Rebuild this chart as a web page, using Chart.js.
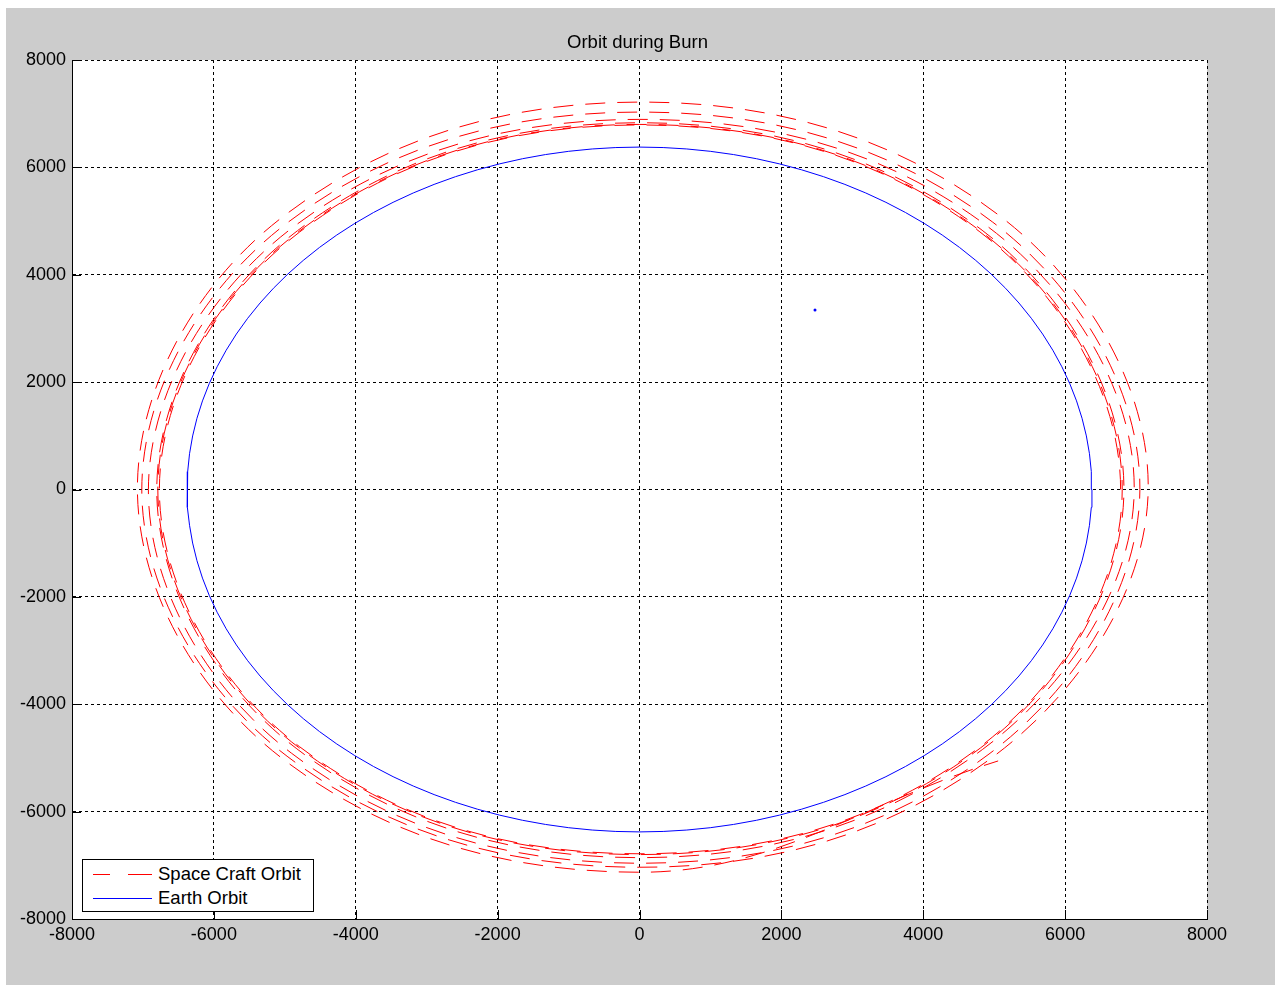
<!DOCTYPE html>
<html><head><meta charset="utf-8">
<script src="https://cdn.jsdelivr.net/npm/chart.js@4"></script>
<style>
html,body{margin:0;padding:0;background:#fff;}
#fig{position:absolute;left:6px;top:8px;width:1269px;height:977px;background:#cccccc;}
#wrap{position:absolute;left:0;top:0;width:1275px;height:990px;}
#legend{position:absolute;left:82px;top:859px;width:230px;height:51px;background:#fff;border:1px solid #000;font-family:"Liberation Sans",Arial,sans-serif;font-size:18.5px;color:#000;}
.row{position:absolute;left:0;height:22px;line-height:22px;white-space:nowrap;}
.row span.t{position:absolute;left:75px;top:0;}
.seg{position:absolute;height:1px;}
</style>
</head><body>
<div id="fig"></div>
<div id="wrap"><canvas id="c" width="1275" height="990"></canvas></div>
<div id="legend">
  <div class="row" style="top:3px;width:230px"><div class="seg" style="left:10px;width:17px;top:11px;background:#ff0000"></div><div class="seg" style="left:45px;width:24px;top:11px;background:#ff0000"></div><span class="t">Space Craft Orbit</span></div>
  <div class="row" style="top:27px;width:230px"><div class="seg" style="left:10px;width:59px;top:11px;background:#0000ff"></div><span class="t">Earth Orbit</span></div>
</div>
<script>
// ---- data (km) ----
const xTickValues = [-8000,-6000,-4000,-2000,0,2000,4000,6000,8000];
const yTickValues = [-8000,-6000,-4000,-2000,0,2000,4000,6000,8000];
const earthRadiusKm = 6378;
// spacecraft radius readings every 45 deg (0,45,...,315), one array per revolution
const scAnglesDeg = [0,45,90,135,180,225,270,315];
const scRev1 = [6782,6786,6790,6779,6768,6776,6785,6784];
const scRev2 = [6805,6802,6800,6795,6790,6795,6800,6803];
const scRev3 = [6829,6830,6831,6818,6805,6831,6857,6843];
const scRev4 = [6974,6934,6894,6908,6923,6942,6961,6968];
const scRev5 = [7054,7042,7030,7023,7016,7026,7036,7045];
const scRev6 = [7171,7194,7216,7147,7078,7104,7129,7150];
const markerX = [2474];
const markerY = [3343];

// build point lists (polar -> cartesian)
const scRevs = [scRev1,scRev2,scRev3,scRev4,scRev5,scRev6];
const toXY = (r,deg) => ({x:r*Math.cos(deg*Math.PI/180), y:r*Math.sin(deg*Math.PI/180)});
const scPoints = [toXY(scRev1[7], -45)]; // lead-in point (segment hidden) so the first arc is curved correctly
scRevs.forEach(rev => rev.forEach((r,i) => scPoints.push(toXY(r, scAnglesDeg[i]))));
const earthPoints = [];
for (let d=0; d<=360; d+=3){ earthPoints.push(toXY(earthRadiusKm, d)); }
const markerPoints = markerX.map((x,i)=>({x, y:markerY[i]}));

const FONT = '"Liberation Sans", Arial, sans-serif';

const innerTicks = {
  id:'innerTicks',
  afterDraw(chart){
    const {ctx, chartArea:ca, scales:{x,y}} = chart;
    ctx.save(); ctx.strokeStyle='#000'; ctx.lineWidth=1; ctx.beginPath();
    xTickValues.forEach(v=>{ const px=Math.round(x.getPixelForValue(v))+0.5; ctx.moveTo(px,ca.bottom); ctx.lineTo(px,ca.bottom-9); });
    yTickValues.forEach(v=>{ const py=Math.round(y.getPixelForValue(v))+0.5; ctx.moveTo(ca.left,py); ctx.lineTo(ca.left+9,py); });
    ctx.stroke(); ctx.restore();
  }
};
const whiteArea = {
  id:'whiteArea',
  beforeDraw(chart){ const {ctx, chartArea:ca}=chart; ctx.save(); ctx.fillStyle='#fff'; ctx.fillRect(ca.left,ca.top,ca.right-ca.left,ca.bottom-ca.top); ctx.restore(); }
};

new Chart(document.getElementById('c'), {
  type:'scatter',
  data:{ datasets:[
    {label:'Space Craft Orbit', data:scPoints, showLine:true, borderColor:'#ff0000', borderWidth:1, borderDash:[20,12], pointRadius:0, tension:0.375, fill:false,
     segment:{borderColor: c => c.p0DataIndex===0 ? 'rgba(0,0,0,0)' : undefined}},
    {label:'Earth Orbit', data:earthPoints, showLine:true, borderColor:'#0000ff', borderWidth:1, pointRadius:0, tension:0, fill:false},
    {label:'marker', data:markerPoints, showLine:false, pointRadius:1.5, pointBackgroundColor:'#0000ff', pointBorderColor:'#0000ff', pointBorderWidth:0}
  ]},
  options:{
    responsive:false, animation:false,
    layout:{padding:{left:0,right:0,top:0,bottom:0}},
    plugins:{
      legend:{display:false}, tooltip:{enabled:false},
      title:{display:true, text:'Orbit during Burn', color:'#000', font:{family:FONT,size:18.5,weight:'normal'}, padding:{top:32,bottom:5.8}}
    },
    scales:{
      x:{type:'linear', min:-8000, max:8000,
        afterBuildTicks:s=>{ s.ticks = xTickValues.map(v=>({value:v})); },
        afterFit:s=>{ s.height=71; },
        ticks:{callback:v=>String(v), color:'#000', font:{family:FONT,size:18}, padding:5, maxRotation:0, autoSkip:false},
        grid:{color:'#000', lineWidth:1, drawTicks:false},
        border:{display:true, color:'#000', width:1, dash:[3,3]}
      },
      y:{type:'linear', min:-8000, max:8000,
        afterBuildTicks:s=>{ s.ticks = yTickValues.map(v=>({value:v})); },
        afterFit:s=>{ s.width=72; },
        ticks:{callback:v=>String(v), color:'#000', font:{family:FONT,size:18}, padding:6, autoSkip:false},
        grid:{color:'#000', lineWidth:1, drawTicks:false},
        border:{display:true, color:'#000', width:1, dash:[3,3]}
      },
      yRightSpace:{type:'linear', position:'right', min:-8000, max:8000, display:true,
        afterFit:s=>{ s.width=68; },
        ticks:{display:false}, grid:{display:false, drawOnChartArea:false}, border:{display:false}
      }
    }
  },
  plugins:[whiteArea, innerTicks]
});
</script>
</body></html>
